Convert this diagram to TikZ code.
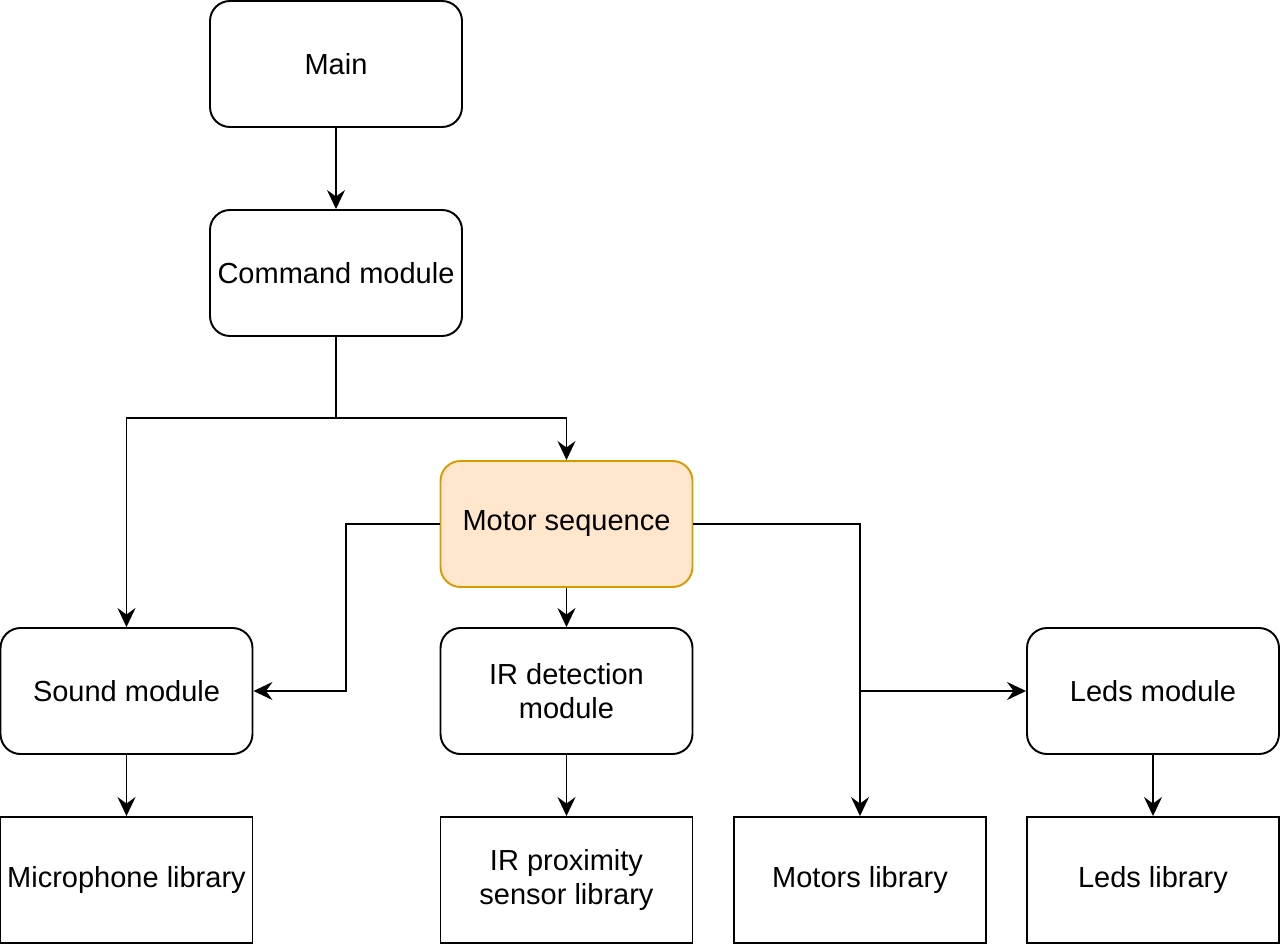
\documentclass[tikz,border=0pt]{standalone}
\usepackage{fontspec}
\setmainfont{Liberation Sans}
\usetikzlibrary{arrows.meta, positioning, calc}

\definecolor{seqfill}{HTML}{FFE6CC}
\definecolor{seqdraw}{HTML}{D79B00}

\begin{document}
\begin{tikzpicture}[
    module/.style={rectangle, rounded corners=0.4cm, draw, line width=1.1pt, minimum width=5.04cm, minimum height=2.52cm, align=center, font=\fontsize{16.5}{19.5}\selectfont},
    library/.style={rectangle, draw, line width=1.1pt, minimum width=5.04cm, minimum height=2.52cm, align=center, font=\fontsize{16.5}{19.5}\selectfont},
    highlight/.style={module, fill=seqfill, draw=seqdraw},
    arrow/.style={-{Stealth[length=3.8mm, width=3.6mm, inset=1.3mm]}, line width=1.1pt}
]
\useasboundingbox (0,0) rectangle (25.6,-18.88);

% Modules
\node[module] (main) at (6.72, -1.28) {Main};
\node[module] (cmd) at (6.72, -5.46) {Command module};
\node[highlight] (seq) at (11.33, -10.48) {Motor sequence};
\node[module] (sound) at (2.53, -13.82) {Sound module};
\node[module] (irdet) at (11.33, -13.82) {IR detection\\module};
\node[module] (leds) at (23.06, -13.82) {Leds module};

% Libraries
\node[library] (mic) at (2.53, -17.6) {Microphone library};
\node[library] (irprox) at (11.33, -17.6) {IR proximity\\sensor library};
\node[library] (motors) at (17.2, -17.6) {Motors library};
\node[library] (ledslib) at (23.06, -17.6) {Leds library};

% Junctions
\coordinate (split) at ($(cmd.south)+(0,-1.62)$);
\coordinate (seqleft) at (6.92, -10.48);
\coordinate (seqright) at (motors.north |- seq.east);
\coordinate (fork) at (motors.north |- leds.west);

% Connections
\draw[arrow] (main) -- (cmd);
\draw[line width=1.1pt] (cmd.south) -- (split);
\draw[arrow] (split) -| (sound.north);
\draw[arrow] (split) -| (seq.north);
\draw[arrow] (seq.west) -- (seqleft) |- (sound.east);
\draw[arrow] (seq) -- (irdet);
\draw[arrow] (seq.east) -- (seqright) -- (motors.north);
\draw[arrow] (fork) -- (leds.west);
\draw[arrow] (sound) -- (mic);
\draw[arrow] (irdet) -- (irprox);
\draw[arrow] (leds) -- (ledslib);
\end{tikzpicture}
\end{document}
